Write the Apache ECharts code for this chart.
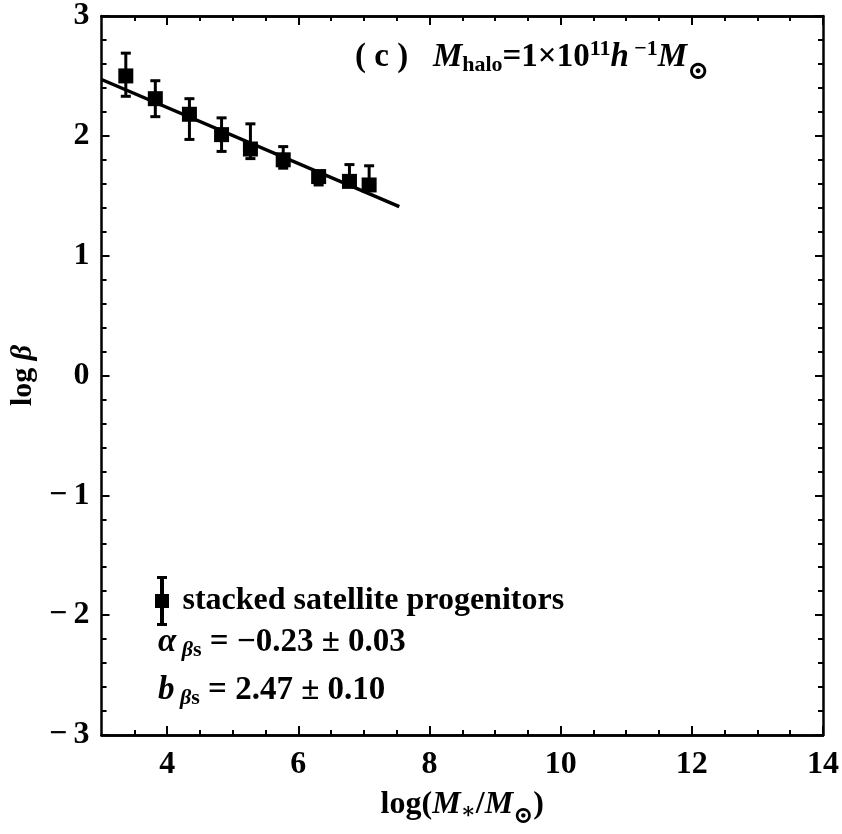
<!DOCTYPE html>
<html>
<head>
<meta charset="utf-8">
<script src="https://cdn.jsdelivr.net/npm/echarts@6/dist/echarts.min.js"></script>
<style>
  html, body { margin: 0; padding: 0; background: #fff; }
  #chart { width: 842px; height: 834px; }
</style>
</head>
<body>
<div id="chart"></div>
<script>
// points
var logMass = [3.37, 3.82, 4.34, 4.83, 5.27, 5.77, 6.31, 6.78, 7.08];
var logBeta = [2.50, 2.31, 2.18, 2.01, 1.89, 1.80, 1.66, 1.62, 1.59];
var errHigh = [2.69, 2.46, 2.31, 2.15, 2.10, 1.91, 1.70, 1.76, 1.75];
var errLow  = [2.33, 2.16, 1.97, 1.87, 1.81, 1.73, 1.59, 1.58, 1.55];

// fitted line end points
var fitX = [3, 7.54];
var fitY = [2.47, 1.41];

// ticks
var xMajor = [4, 6, 8, 10, 12, 14];
var xMinor = [3.5, 4.5, 5, 5.5, 6.5, 7, 7.5, 8.5, 9, 9.5, 10.5, 11, 11.5, 12.5, 13, 13.5];

var serif = '"Liberation Serif", "DejaVu Serif", serif';
var black = '#000';

var scatterData = logMass.map(function (x, i) { return [x, logBeta[i]]; });
var barData = logMass.map(function (x, i) { return [x, errLow[i], errHigh[i]]; });
var fitData = fitX.map(function (x, i) { return [x, fitY[i]]; });

function fmtMinus(v) {
    return v < 0 ? '\u2212\u2009' + (-v) : String(v);
}

function renderBar(params, api) {
    var x = api.value(0);
    var top = api.coord([x, api.value(2)]);
    var bot = api.coord([x, api.value(1)]);
    var cap = 5;
    var st = { stroke: black, lineWidth: 3 };
    return {
        type: 'group',
        children: [
            { type: 'line', shape: { x1: top[0], y1: top[1], x2: bot[0], y2: bot[1] }, style: st },
            { type: 'line', shape: { x1: top[0] - cap, y1: top[1], x2: top[0] + cap, y2: top[1] }, style: st },
            { type: 'line', shape: { x1: bot[0] - cap, y1: bot[1], x2: bot[0] + cap, y2: bot[1] }, style: st }
        ]
    };
}

function xAxisOf(pos, ticks, len, labels) {
    var a = {
        type: 'value', min: 3, max: 14, position: pos,
        splitLine: { show: false },
        axisLine: { show: true, onZero: false, lineStyle: { color: black, width: 2.5 } },
        axisTick: { show: true, inside: true, length: len, customValues: ticks, lineStyle: { color: black, width: 2 } },
        axisLabel: { show: false }
    };
    if (labels) {
        a.axisLabel = {
            show: true, customValues: ticks, margin: 14,
            color: black, fontFamily: serif, fontWeight: 'bold', fontSize: 32
        };
        a.name = '{n|log(}{i|M}{sub|\u2217}{n|/}{i|M}{sub2|\u2299}{n|)}';
        a.nameLocation = 'middle';
        a.nameGap = 46;
        a.nameTextStyle = {
            rich: {
                n: { fontFamily: serif, fontWeight: 'bold', fontSize: 32, color: black },
                i: { fontFamily: serif, fontWeight: 'bold', fontStyle: 'italic', fontSize: 32, color: black },
                sub: { fontFamily: serif, fontWeight: 'bold', fontSize: 22, color: black, padding: [14, 0, 0, 0] },
                sub2: { fontFamily: serif, fontWeight: 'bold', fontSize: 24, color: black, padding: [24, 0, 0, 0] }
            }
        };
    }
    return a;
}

function yAxisOf(pos, labels) {
    var a = {
        type: 'value', min: -3, max: 3, interval: 1, position: pos,
        splitLine: { show: false },
        axisLine: { show: true, onZero: false, lineStyle: { color: black, width: 2.5 } },
        axisTick: { show: true, inside: true, length: 8, lineStyle: { color: black, width: 2 } },
        minorTick: { show: true, splitNumber: 5, length: 5, lineStyle: { color: black, width: 2 } },
        axisLabel: { show: false }
    };
    if (labels) {
        a.axisLabel = {
            show: true, margin: 12, formatter: fmtMinus,
            color: black, fontFamily: serif, fontWeight: 'bold', fontSize: 32
        };
        a.name = '{n|log }{i|\u03b2}';
        a.nameLocation = 'middle';
        a.nameGap = 62;
        a.nameTextStyle = {
            rich: {
                n: { fontFamily: serif, fontWeight: 'bold', fontSize: 30, color: black },
                i: { fontFamily: serif, fontWeight: 'bold', fontStyle: 'italic', fontSize: 30, color: black }
            }
        };
    }
    return a;
}

var richBase = {
    n: { fontFamily: serif, fontWeight: 'bold', fontSize: 33, fill: black },
    i: { fontFamily: serif, fontWeight: 'bold', fontStyle: 'italic', fontSize: 33, fill: black },
    sub: { fontFamily: serif, fontWeight: 'bold', fontSize: 22, fill: black, padding: [16, 0, 0, 0] },
    subi: { fontFamily: serif, fontWeight: 'bold', fontStyle: 'italic', fontSize: 22, fill: black, padding: [16, 0, 0, 0] },
    sup: { fontFamily: serif, fontWeight: 'bold', fontSize: 22, fill: black, padding: [0, 0, 16, 0] },
    sun: { fontFamily: serif, fontWeight: 'bold', fontSize: 26, fill: black, padding: [30, 0, 0, 0] }
};

var chart = echarts.init(document.getElementById('chart'));
var option = {
    animation: false,
    backgroundColor: '#fff',
    grid: { left: 97, right: 19, top: 16, bottom: 92 },
    xAxis: [
        xAxisOf('bottom', xMajor, 9, true),
        xAxisOf('bottom', xMinor, 5, false),
        xAxisOf('top', xMajor, 9, false),
        xAxisOf('top', xMinor, 5, false)
    ],
    yAxis: [
        yAxisOf('left', true),
        yAxisOf('right', false)
    ],
    legend: {
        left: 150, top: 571,
        itemWidth: 15, itemHeight: 50,
        data: [{
            name: 'stacked satellite progenitors',
            icon: 'path://M2,0H12V3H9V18H14V32H9V47H12V50H2V47H5V32H0V18H5V3H2Z'
        }],
        itemStyle: { color: black, opacity: 1 },
        textStyle: { fontFamily: serif, fontWeight: 'bold', fontSize: 32, color: black, padding: [0, 0, 0, 8] }
    },
    graphic: [
        {
            type: 'text', left: 355, top: 38,
            style: {
                text: '{n|( c )}{n|   }{i|M}{sub|halo}{n|=1\u00d710}{sup|11}{i|h}{sup| \u22121}{i|M}{sun|\u2299}',
                rich: richBase
            }
        },
        {
            type: 'text', left: 158, top: 626,
            style: {
                text: '{i|\u03b1}{subi| \u03b2}{sub|s}{n| = \u22120.23 \u00b1 0.03}',
                rich: richBase
            }
        },
        {
            type: 'text', left: 158, top: 674,
            style: {
                text: '{i|b}{subi| \u03b2}{sub|s}{n| = 2.47 \u00b1 0.10}',
                rich: richBase
            }
        }
    ],
    series: [
        {
            type: 'line', name: 'fit', data: fitData,
            xAxisIndex: 0, yAxisIndex: 0,
            showSymbol: false, symbol: 'none',
            lineStyle: { color: black, width: 3.5 }
        },
        {
            type: 'custom', name: 'errors', data: barData,
            xAxisIndex: 0, yAxisIndex: 0,
            renderItem: renderBar,
            encode: { x: 0, y: [1, 2] }
        },
        {
            type: 'scatter', name: 'stacked satellite progenitors', data: scatterData,
            xAxisIndex: 0, yAxisIndex: 0,
            symbol: 'rect', symbolSize: 15,
            itemStyle: { color: black, opacity: 1 }
        }
    ]
};
chart.setOption(option);
</script>
</body>
</html>
